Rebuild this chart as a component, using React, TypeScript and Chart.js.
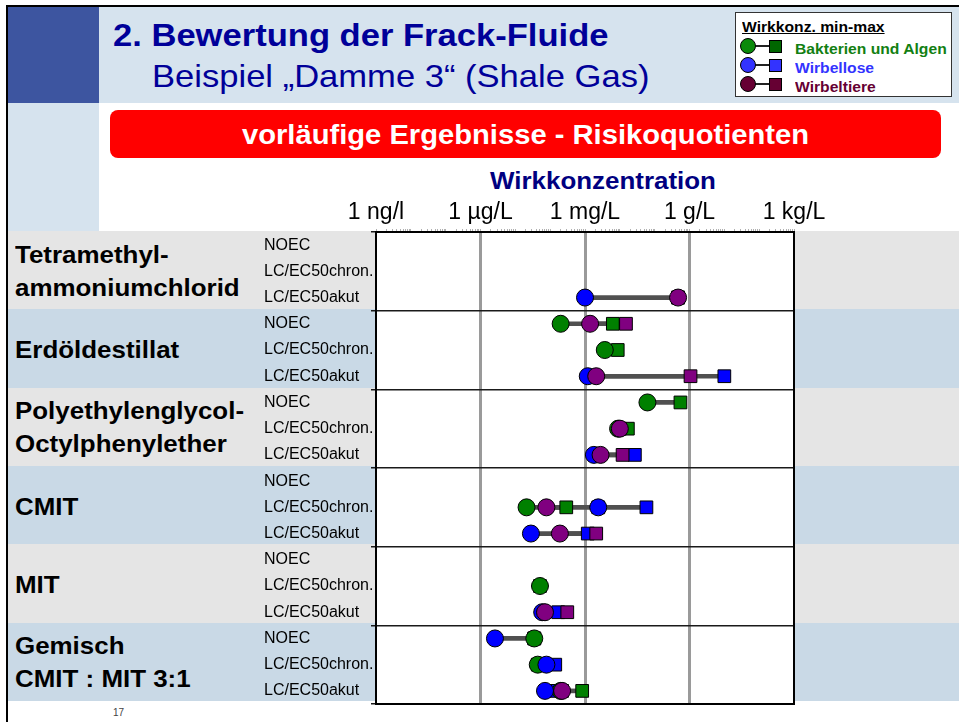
import React, { useEffect, useRef } from 'react';
import { Chart, registerables } from 'chart.js';

Chart.register(...registerables);

// ---------------- data ----------------
const substances = [
  'Tetramethyl-\nammoniumchlorid',
  'Erdöldestillat',
  'Polyethylenglycol-\nOctylphenylether',
  'CMIT',
  'MIT',
  'Gemisch\nCMIT : MIT 3:1',
];
const endpoints = ['NOEC', 'LC/EC50chron.', 'LC/EC50akut'];

// axis (mg/L)
const axisTickValues = [1e-6, 1e-3, 1, 1e3, 1e6];
const axisTickLabels = ['1 ng/l', '1 µg/L', '1 mg/L', '1 g/L', '1 kg/L'];

type Range = [number, number] | null;
// Wirkkonzentration [min, max] in mg/L, one entry per substance x endpoint
const bakterienAlgen: Range[] = [
  null, null, null,
  [0.2, 6.3], [3.7, 8.7], null,
  [62, 550], [8.9, 17], null,
  null, [0.021, 0.29], null,
  null, [0.051, 0.051], null,
  [0.035, 0.035], [0.044, 0.044], [0.2, 0.83],
];
const wirbellose: Range[] = [
  null, null, [1, 470],
  null, null, [1.2, 10000],
  null, null, [1.8, 27],
  null, [2.4, 58], [0.028, 1.2],
  null, null, [0.059, 0.17],
  [0.0026, 0.035], [0.078, 0.14], [0.071, 0.13],
];
const wirbeltiere: Range[] = [
  null, null, [470, 470],
  [1.4, 15], null, [2.1, 1070],
  null, [10, 10], [2.8, 12],
  null, [0.078, 2.4], [0.19, 2.1],
  null, null, [0.071, 0.31],
  null, null, [0.22, 0.22],
];

const legendTitle = 'Wirkkonz. min-max';
const groupNames = ['Bakterien und Algen', 'Wirbellose', 'Wirbeltiere'];

// ---------------- styling ----------------
const FONT = '"Liberation Sans", Arial, Helvetica, sans-serif';
const plotColors = ['#008000', '#0000ff', '#800080'];
const legendCircle = ['#0a8a0a', '#3333ff', '#660033'];
const legendSquare = ['#006600', '#3333ff', '#660033'];
const legendText = ['#127f12', '#3333ff', '#660033'];

Chart.defaults.font.family = FONT;

const sameLog = (a: number, b: number) => Math.abs(Math.log10(a) - Math.log10(b)) < 1e-6;

const txt = (extra: React.CSSProperties): React.CSSProperties => ({
  position: 'absolute',
  whiteSpace: 'nowrap',
  lineHeight: 1,
  fontFamily: FONT,
  transform: 'scaleX(1.08)',
  transformOrigin: 'left top',
  margin: 0,
  ...extra,
});

export default function App() {
  const canvasRef = useRef<HTMLCanvasElement | null>(null);

  useEffect(() => {
    const canvas = canvasRef.current;
    if (!canvas) return;
    const rowLabels = substances.flatMap(() => endpoints);
    const groups = [bakterienAlgen, wirbellose, wirbeltiere];

    const spans = groups.flatMap((g) => g.flatMap((r, i) => (r ? [{ x: r, y: i }] : [])));
    const pts = (g: Range[], k: number) => g.flatMap((r, i) => (r ? [{ x: r[k], y: i }] : []));

    const datasets: any[] = [
      {
        type: 'bar',
        label: 'Spanne',
        data: spans,
        backgroundColor: '#505050',
        borderWidth: 0,
        barThickness: 4,
        order: 10,
      },
      ...groups.map((g, j) => ({
        type: 'scatter',
        label: groupNames[j] + ' max',
        data: pts(g, 1),
        pointStyle: 'rect',
        pointRadius: 9,
        pointBackgroundColor: plotColors[j],
        pointBorderColor: '#000',
        pointBorderWidth: 1,
        order: 7 - j,
      })),
      ...groups.map((g, j) => ({
        type: 'scatter',
        label: groupNames[j] + ' min',
        data: pts(g, 0),
        pointStyle: 'circle',
        pointRadius: 8.5,
        pointBackgroundColor: plotColors[j],
        pointBorderColor: '#000',
        pointBorderWidth: 1,
        order: 3 - j,
      })),
    ];

    // minor log ticks
    const logTicks: number[] = [];
    const e0 = Math.round(Math.log10(axisTickValues[0]));
    const e1 = Math.round(Math.log10(axisTickValues[axisTickValues.length - 1]));
    for (let e = e0; e < e1; e++) for (let m = 1; m <= 9; m++) logTicks.push(m * Math.pow(10, e));
    logTicks.push(Math.pow(10, e1));

    const boundary = (c: any) =>
      c.index === undefined || c.index % endpoints.length === 0 ? '#1a1a1a' : 'rgba(0,0,0,0)';
    const interior = axisTickValues.slice(1, -1);

    const framePlugin = {
      id: 'frame',
      beforeDraw(chart: any) {
        const { ctx, chartArea: a } = chart;
        ctx.save();
        ctx.fillStyle = '#ffffff';
        ctx.fillRect(a.left, a.top, a.right - a.left, a.bottom - a.top);
        ctx.restore();
      },
      beforeDatasetsDraw(chart: any) {
        const { ctx, chartArea: a } = chart;
        ctx.save();
        ctx.strokeStyle = '#000';
        ctx.lineWidth = 2;
        ctx.strokeRect(a.left, a.top, a.right - a.left, a.bottom - a.top);
        ctx.restore();
      },
    };

    const chart = new Chart(canvas, {
      type: 'bar',
      data: { datasets },
      plugins: [framePlugin],
      options: {
        indexAxis: 'y',
        animation: false,
        responsive: false,
        devicePixelRatio: 1,
        events: [],
        layout: { padding: { left: 0, top: 0, right: 46, bottom: 18 } },
        plugins: { legend: { display: false }, tooltip: { enabled: false }, title: { display: false } },
        scales: {
          x: {
            type: 'logarithmic',
            position: 'top',
            min: axisTickValues[0],
            max: axisTickValues[axisTickValues.length - 1],
            offset: false,
            afterBuildTicks: (s: any) => {
              s.ticks = logTicks.map((v) => ({ value: v }));
            },
            afterFit: (s: any) => {
              s.height = 42;
            },
            ticks: {
              autoSkip: false,
              minRotation: 0,
              maxRotation: 0,
              padding: 3,
              color: '#000',
              font: { size: 23, family: FONT },
              callback: (v: any) => {
                const k = axisTickValues.findIndex((t) => sameLog(t, Number(v)));
                return k >= 0 ? axisTickLabels[k] : '';
              },
            },
            grid: {
              offset: false,
              color: (c: any) =>
                c.tick && interior.some((t) => sameLog(t, c.tick.value)) ? '#9a9a9a' : 'rgba(0,0,0,0)',
              lineWidth: 3,
              drawTicks: true,
              tickLength: 3,
              tickWidth: 1,
              tickColor: '#b0b0b0',
            },
            border: { display: false },
          },
          y: {
            type: 'linear',
            min: -0.5,
            max: rowLabels.length - 0.5,
            reverse: true,
            offset: false,
            afterBuildTicks: (s: any) => {
              s.ticks = rowLabels.map((_, i) => ({ value: i }));
            },
            afterFit: (s: any) => {
              s.width = 112;
            },
            ticks: {
              autoSkip: false,
              padding: 4,
              crossAlign: 'far',
              color: '#000',
              font: { size: 16, family: FONT },
              callback: (_v: any, i: number) => rowLabels[i],
            },
            grid: {
              offset: true,
              color: boundary,
              lineWidth: 1.5,
              drawTicks: true,
              tickLength: 5,
              tickWidth: 1.5,
              tickColor: boundary,
            },
            border: { display: false },
          },
        },
      } as any,
    });
    return () => chart.destroy();
  }, []);

  const bandTop = (k: number) => 231 + k * 78.33;
  const bands = substances.map((_, k) => (
    <div
      key={'b' + k}
      style={{
        position: 'absolute',
        left: 8,
        top: Math.round(bandTop(k)),
        width: 951,
        height: Math.round(bandTop(k + 1)) - Math.round(bandTop(k)),
        background: k % 2 === 0 ? '#e5e5e5' : '#c9d9e6',
      }}
    />
  ));

  const names = substances.flatMap((s, k) => {
    const lines = s.split('\n');
    return lines.map((ln, j) => {
      const base = lines.length === 1 ? bandTop(k) + 49 : bandTop(k) + 32 + j * 33;
      return (
        <div key={'n' + k + '_' + j} style={txt({ left: 15, top: base - 20.3, fontSize: 24, fontWeight: 'bold', color: '#000' })}>
          {ln}
        </div>
      );
    });
  });

  const legendRows = groupNames.map((g, j) => {
    const cy = 46 + j * 19;
    return (
      <React.Fragment key={'l' + j}>
        <div style={{ position: 'absolute', left: 755, top: cy - 1, width: 14, height: 2, background: '#222' }} />
        <div
          style={{
            position: 'absolute', left: 740, top: cy - 8, width: 14, height: 14, borderRadius: '50%',
            background: legendCircle[j], border: '1px solid #000',
          }}
        />
        <div
          style={{
            position: 'absolute', left: 769, top: cy - 6, width: 11, height: 11,
            background: legendSquare[j], border: '1px solid #000',
          }}
        />
        <div style={txt({ left: 795, top: cy + 8 - 12.3, fontSize: 14.5, fontWeight: 'bold', color: legendText[j] })}>{g}</div>
      </React.Fragment>
    );
  });

  return (
    <div style={{ position: 'absolute', left: 0, top: 0, width: 959, height: 722, overflow: 'hidden', background: '#fff' }}>
      <div style={{ position: 'absolute', left: 6, top: 5, width: 960, height: 720, borderTop: '2px solid #000', borderLeft: '2px solid #000' }} />
      <div style={{ position: 'absolute', left: 8, top: 7, width: 91, height: 96, background: '#3d55a0' }} />
      <div style={{ position: 'absolute', left: 99, top: 7, width: 860, height: 96, background: '#d6e3ee' }} />
      <div style={{ position: 'absolute', left: 8, top: 103, width: 91, height: 128, background: '#d6e3ee' }} />
      {bands}

      <div style={txt({ left: 113, top: 46 - 27.1, fontSize: 32, fontWeight: 'bold', color: '#000099' })}>
        2. Bewertung der Frack-Fluide
      </div>
      <div style={txt({ left: 152, top: 87 - 27.1, fontSize: 32, color: '#000099' })}>
        Beispiel „Damme 3“ (Shale Gas)
      </div>

      <div style={{ position: 'absolute', left: 735, top: 12, width: 215, height: 83, background: '#fff', border: '1.5px solid #333' }} />
      <div style={txt({ left: 742, top: 32 - 12.3, fontSize: 14.5, fontWeight: 'bold', color: '#000', textDecoration: 'underline' })}>
        {legendTitle}
      </div>
      {legendRows}

      <div style={{ position: 'absolute', left: 110, top: 110, width: 831, height: 48, background: '#ff0000', borderRadius: 8 }} />
      <div
        style={txt({
          left: 110, width: 831, top: 145 - 22.9, fontSize: 27, fontWeight: 'bold', color: '#fff',
          textAlign: 'center', transformOrigin: 'center top',
        })}
      >
        vorläufige Ergebnisse - Risikoquotienten
      </div>

      <div
        style={txt({
          left: 403, width: 400, top: 189 - 20.3, fontSize: 24, fontWeight: 'bold', color: '#000080',
          textAlign: 'center', transformOrigin: 'center top',
        })}
      >
        Wirkkonzentration
      </div>

      {names}

      <div style={txt({ left: 113, top: 716 - 8.5, fontSize: 10, color: '#444', transform: 'none' })}>17</div>

      <canvas
        ref={canvasRef}
        width={576}
        height={532}
        style={{ position: 'absolute', left: 264, top: 190, width: 576, height: 532 }}
      />
    </div>
  );
}
